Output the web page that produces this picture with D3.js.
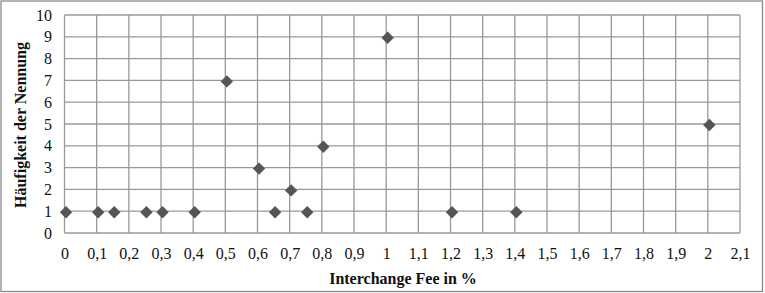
<!DOCTYPE html>
<html><head><meta charset="utf-8">
<script src="https://cdn.jsdelivr.net/npm/d3@7"></script>
<style>body{margin:0;background:#fff}</style>
</head><body>
<svg id="c" width="765" height="293"></svg>
<script>
const xValues = [0, 0.1, 0.15, 0.25, 0.3, 0.4, 0.5, 0.6, 0.65, 0.7, 0.75, 0.8, 1, 1.2, 1.4, 2];
const yValues = [1, 1, 1, 1, 1, 1, 7, 3, 1, 2, 1, 4, 9, 1, 1, 5];
const xTicks = d3.range(0, 22).map(i => i / 10);
const yTicks = d3.range(0, 11);
const xTitle = "Interchange Fee in %";
const yTitle = "Häufigkeit der Nennung";

const svg = d3.select("#c");
const m = {l: 64.5, r: 740, t: 15, b: 233};
const x = d3.scaleLinear().domain([0, 2.1]).range([m.l, m.r]);
const y = d3.scaleLinear().domain([0, 10]).range([m.b, m.t]);
const fmt = v => d3.format("")(+v.toFixed(1)).replace(".", ",");

svg.append("rect").attr("x", 1).attr("y", 1).attr("width", 761.5).attr("height", 290.5)
  .attr("fill", "#fff").attr("stroke", "#8a8a8a").attr("stroke-width", 1.3);

const g = svg.append("g");
g.selectAll(".vx").data(xTicks).join("line")
  .attr("x1", d => x(d)).attr("x2", d => x(d)).attr("y1", m.t).attr("y2", m.b)
  .attr("stroke", "#999").attr("stroke-width", 1.3);
g.selectAll(".hy").data(yTicks).join("line")
  .attr("x1", m.l).attr("x2", m.r).attr("y1", d => y(d)).attr("y2", d => y(d))
  .attr("stroke", "#999").attr("stroke-width", 1.3);

const xAxis = d3.axisBottom(x).tickValues(xTicks).tickFormat(fmt).tickSize(0).tickPadding(15);
const gx = svg.append("g").attr("transform", `translate(0,${m.b})`).call(xAxis);
gx.select(".domain").remove();
gx.selectAll("text").attr("font-family", "Liberation Serif").attr("font-size", 16).attr("fill", "#111");

const yAxis = d3.axisLeft(y).tickValues(yTicks).tickFormat(d3.format("d")).tickSize(0).tickPadding(12.5);
const gy = svg.append("g").attr("transform", `translate(${m.l},0)`).call(yAxis);
gy.select(".domain").remove();
gy.selectAll("text").attr("font-family", "Liberation Serif").attr("font-size", 16).attr("fill", "#111");

svg.append("text").attr("x", 403).attr("y", 284).attr("text-anchor", "middle")
  .attr("font-family", "Liberation Serif").attr("font-weight", "bold").attr("font-size", 16)
  .attr("fill", "#111").text(xTitle);
svg.append("text").attr("transform", `translate(26,${(m.t + m.b) / 2 + 1}) rotate(-90)`)
  .attr("text-anchor", "middle")
  .attr("font-family", "Liberation Serif").attr("font-weight", "bold").attr("font-size", 16)
  .attr("fill", "#111").text(yTitle);

const pts = xValues.map((v, i) => ({x: v, y: yValues[i]}));
const r = 6.2;
svg.selectAll(".pt").data(pts).join("path")
  .attr("d", `M0,${-r}L${r},0L0,${r}L${-r},0Z`)
  .attr("transform", d => `translate(${x(d.x) + 1.5},${y(d.y) + 1})`)
  .attr("fill", "#555");
</script>
</body></html>
